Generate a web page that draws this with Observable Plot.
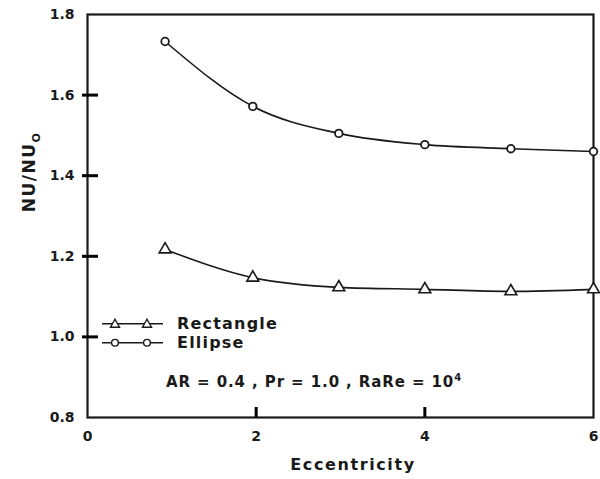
<!DOCTYPE html>
<html>
<head>
<meta charset="utf-8">
<script src="https://cdn.jsdelivr.net/npm/d3@7"></script>
<script src="https://cdn.jsdelivr.net/npm/@observablehq/plot@0.6"></script>
<style>
  html, body { margin: 0; padding: 0; background: #fff; }
  #wrap { position: relative; width: 600px; height: 479px; font-family: "DejaVu Sans", sans-serif; color: #1a1a1a; }
  #wrap > svg { display: block; }
  .ov { position: absolute; white-space: nowrap; font-weight: bold; }
  .ov svg { display: inline-block; vertical-align: middle; }
</style>
</head>
<body>
<div id="wrap"></div>
<script>
// Data
const eccentricity = [0.92, 1.96, 2.98, 4.0, 5.02, 6.0];
const ellipse      = [1.733, 1.572, 1.505, 1.477, 1.467, 1.460];
const rectangle    = [1.217, 1.147, 1.123, 1.118, 1.113, 1.118];
const xTickLabels  = [0, 2, 4, 6];
const xInnerTicks  = [2, 4];
const yTickLabels  = [0.8, 1.0, 1.2, 1.4, 1.6, 1.8];
const yInnerTicks  = [1.0, 1.2, 1.4, 1.6];
const seriesNames  = ["Rectangle", "Ellipse"];
const note = "AR = 0.4 , Pr = 1.0 , RaRe = 10<sup style='font-size:10px'>4</sup>";

const ellData  = eccentricity.map((x, i) => ({x, y: ellipse[i]}));
const rectData = eccentricity.map((x, i) => ({x, y: rectangle[i]}));
const ink = "#1a1a1a";

const W = 600, H = 479, mL = 87, mR = 7, mT = 14, mB = 62;
const frameW = W - mL - mR, frameH = H - mT - mB;

const chart = Plot.plot({
  width: W,
  height: H,
  marginLeft: mL,
  marginRight: mR,
  marginTop: mT,
  marginBottom: mB,
  style: {fontFamily: "DejaVu Sans, sans-serif", fontSize: "14px", fontWeight: "bold", color: ink, background: "white"},
  x: {domain: [0, 6]},
  y: {domain: [0.8, 1.8]},
  marks: [
    Plot.axisX(xTickLabels, {tickSize: 0, tickPadding: 14, tickFormat: d => String(d), fontSize: 14, label: null}),
    Plot.axisY(yTickLabels, {tickSize: 0, tickPadding: 13, tickFormat: d => d.toFixed(1), fontSize: 14, label: null}),
    Plot.lineY(ellData, {x: "x", y: "y", curve: "monotone-x", stroke: ink, strokeWidth: 1.6}),
    Plot.lineY(rectData, {x: "x", y: "y", curve: "monotone-x", stroke: ink, strokeWidth: 1.6}),
    Plot.frame({stroke: ink, strokeWidth: 2.2}),
    // inward tick marks
    Plot.tickY(yInnerTicks, {y: d => d, insetLeft: -5, insetRight: frameW - 11, stroke: "black", strokeWidth: 3}),
    Plot.tickX(xInnerTicks, {x: d => d, insetTop: frameH - 10, insetBottom: 0, stroke: "black", strokeWidth: 3}),
    Plot.dot(ellData, {x: "x", y: "y", r: 3.8, fill: "white", stroke: ink, strokeWidth: 1.8, clip: false}),
    Plot.dot(rectData, {x: "x", y: "y", r: 4.4, symbol: "triangle", fill: "white", stroke: ink, strokeWidth: 1.6, clip: false})
  ]
});

const wrap = document.getElementById("wrap");
wrap.appendChild(chart);

function add(html, style) {
  const d = document.createElement("div");
  d.className = "ov";
  d.innerHTML = html;
  Object.assign(d.style, style);
  wrap.appendChild(d);
  return d;
}

// Y axis label
add('NU/NU<sub style="font-size:11px">O</sub>', {
  left: "31px", top: "172px", fontSize: "17px", letterSpacing: "1.5px",
  transform: "translate(-50%, -50%) rotate(-90deg)"
});
// X axis label
add("Eccentricity", {left: "353px", top: "464px", fontSize: "16px", letterSpacing: "1.6px", transform: "translate(-50%, -50%)"});

// Legend
function legendRow(name, symbol, top) {
  const sym = symbol === "triangle"
    ? (cx) => `<path d="M${cx},-4.5 L${cx+4.5},3.5 L${cx-4.5},3.5 Z" fill="white" stroke="${ink}" stroke-width="1.4"/>`
    : (cx) => `<circle cx="${cx}" cy="0" r="3.4" fill="white" stroke="${ink}" stroke-width="1.4"/>`;
  add(`<svg width="64" height="14" viewBox="0 -7 64 14"><line x1="1" x2="62" y1="0" y2="0" stroke="${ink}" stroke-width="1.6"/>${sym(14)}${sym(46)}</svg><span style="margin-left:12px;vertical-align:middle">${name}</span>`,
    {left: "101px", top: top + "px", fontSize: "16px", letterSpacing: "1.2px", transform: "translateY(-50%)", lineHeight: "16px"});
}
legendRow(seriesNames[0], "triangle", 323);
legendRow(seriesNames[1], "circle", 342);

// Annotation
add(note, {left: "166px", top: "380px", fontSize: "15px", letterSpacing: "0.9px", transform: "translateY(-50%)", lineHeight: "16px"});
</script>
</body>
</html>
